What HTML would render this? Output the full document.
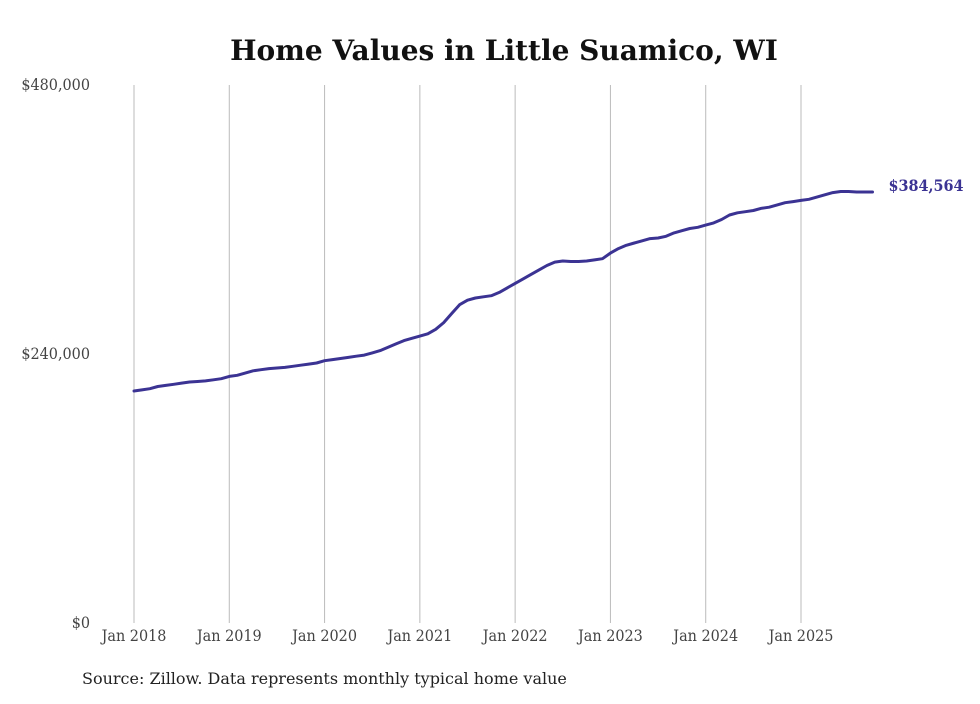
<!DOCTYPE html>
<html><head><meta charset="utf-8"><style>
body{margin:0;background:#fff;}
svg text{font-family:"DejaVu Serif Condensed","DejaVu Serif","Liberation Serif",serif;}
svg text.wide{font-family:"DejaVu Serif","Liberation Serif",serif;}
</style></head><body>
<svg id="chart" width="980" height="699" xmlns="http://www.w3.org/2000/svg">
<rect width="980" height="699" fill="#fff"/>
<text class="wide" x="504" y="60" text-anchor="middle" font-size="28" font-weight="bold" fill="#111">Home Values in Little Suamico, WI</text>
<g id="grid"></g>
<g id="yaxis"></g>
<g id="xaxis"></g>
<path id="line" fill="none" stroke="#3b3393" stroke-width="3" stroke-linejoin="round" stroke-linecap="round"/>
<text id="endlabel" font-size="16" font-weight="bold" fill="#3b3393"></text>
<text class="wide" x="82" y="684" font-size="16" fill="#222">Source: Zillow. Data represents monthly typical home value</text>
</svg>
<script>
const startYear = 2018;
const values = [
207000,208000,209000,211000,212000,213000,214000,215000,215500,216000,217000,218000,
220000,221000,223000,225000,226000,227000,227500,228000,229000,230000,231000,232000,
234000,235000,236000,237000,238000,239000,241000,243000,246000,249000,252000,254000,
256000,258000,262000,268000,276000,284000,288000,290000,291000,292000,295000,299000,
303000,307000,311000,315000,319000,322000,323000,322500,322500,323000,324000,325000,
330000,334000,337000,339000,341000,343000,343500,345000,348000,350000,352000,353000,
355000,357000,360000,364000,366000,367000,368000,370000,371000,373000,375000,376000,
377000,378000,380000,382000,384000,385000,385000,384500,384500,384564];
const yTicks = [0,240000,480000];
const yTickLabels = ["$0","$240,000","$480,000"];
const xTickLabels = ["Jan 2018","Jan 2019","Jan 2020","Jan 2021","Jan 2022","Jan 2023","Jan 2024","Jan 2025"];
const NS="http://www.w3.org/2000/svg";
const x = m => 134 + m*(801-134)/84;
const y = v => 623 - v*(623-85)/480000;
const grid=document.getElementById('grid'), ya=document.getElementById('yaxis'), xa=document.getElementById('xaxis');
xTickLabels.forEach((l,i)=>{
  const ln=document.createElementNS(NS,'line');
  
  
  ln.setAttribute('x1',x(i*12));ln.setAttribute('x2',x(i*12));ln.setAttribute('y1',85);ln.setAttribute('y2',623);
  ln.setAttribute('stroke','#bbb');ln.setAttribute('stroke-width','1');
  grid.appendChild(ln);
  const t=document.createElementNS(NS,'text');
  
  
  t.setAttribute('x',x(i*12));t.setAttribute('y',641);t.setAttribute('text-anchor','middle');
  t.setAttribute('font-size','16');t.setAttribute('fill','#444');t.textContent=l;
  xa.appendChild(t);
});
yTicks.forEach((v,i)=>{
  const t=document.createElementNS(NS,'text');
  
  
  t.setAttribute('x',90);t.setAttribute('y',y(v)+5);t.setAttribute('text-anchor','end');
  t.setAttribute('font-size','16');t.setAttribute('fill','#444');t.textContent=yTickLabels[i];
  ya.appendChild(t);
});
document.getElementById('line').setAttribute('d',values.map((v,i)=>(i?'L':'M')+x(i).toFixed(1)+','+y(v).toFixed(1)).join(''));
const last=values.length-1, el=document.getElementById('endlabel');
el.setAttribute('x',x(last)+16);el.setAttribute('y',y(values[last])-1);
el.textContent='$'+values[last].toLocaleString('en-US');
</script>
</body></html>
